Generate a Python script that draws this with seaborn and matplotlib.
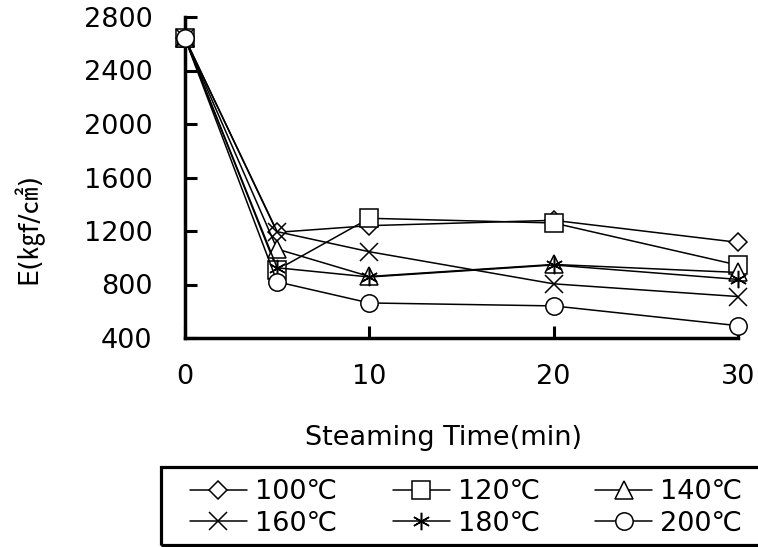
import seaborn as sns
import matplotlib.pyplot as plt
from matplotlib.patches import Rectangle

# steaming time (min) and modulus E (kgf/cm2) per steaming temperature
time_min = [0, 5, 10, 20, 30]
e_100 = [2640, 1190, 1240, 1280, 1115]
e_120 = [2640, 910, 1295, 1260, 945]
e_140 = [2640, 1065, 860, 950, 890]
e_160 = [2640, 1195, 1045, 805, 710]
e_180 = [2640, 925, 856, 946, 838]
e_200 = [2640, 820, 662, 640, 492]

labels = ['100℃', '120℃', '140℃', '160℃', '180℃', '200℃']
yticks = [400, 800, 1200, 1600, 2000, 2400, 2800]
xticks = [0, 10, 20, 30]

marker_list = ['D', 's', '^', 'x', (6, 2, 0), 'o']

sns.set_style('ticks')
plt.rcParams['font.family'] = ['DejaVu Sans', 'Noto Sans CJK KR']
plt.rcParams['text.color'] = 'black'
plt.rcParams['axes.labelcolor'] = 'black'

fs = 19.5
fig = plt.figure(figsize=(7.58, 5.47), dpi=100)
ax = fig.add_axes([185 / 758, 1 - 338 / 547, 553 / 758, 321 / 547])

series = [e_100, e_120, e_140, e_160, e_180, e_200]
for vals, lab, mk in zip(series, labels, marker_list):
    ms = 9.2 if mk == 'D' else 12.5
    sns.lineplot(x=time_min, y=vals, ax=ax, color='black', linewidth=1.1,
                 marker=mk, markersize=ms, markerfacecolor='white',
                 markeredgecolor='black', markeredgewidth=1.1,
                 clip_on=False, zorder=3, label=lab, legend=False)

ax.set_xlim(0, 30)
ax.set_ylim(400, 2800)
ax.set_xticks(xticks)
ax.set_yticks(yticks)
sns.despine(ax=ax)
for sp in ['left', 'bottom']:
    ax.spines[sp].set_linewidth(2.5)
    ax.spines[sp].set_color('black')
ax.tick_params(axis='both', direction='in', length=8.5, width=2.2,
               labelsize=fs, colors='black')
ax.tick_params(axis='x', pad=18.5)
ax.tick_params(axis='y', pad=23.5)

ax.set_xlabel('Steaming Time(min)', fontsize=fs)
ax.xaxis.set_label_coords(0.467, -0.271)
ax.set_ylabel('E(㎏f/㎠)', fontsize=fs)
ax.yaxis.set_label_coords(-0.257, 0.34)

# legend fills row by row: 100 120 140 / 160 180 200
handles, labs = ax.get_legend_handles_labels()
order = [0, 3, 1, 4, 2, 5]
fig.legend([handles[i] for i in order], [labs[i] for i in order], ncol=3,
           loc='upper left', bbox_to_anchor=(190 / 758, 1 - 479 / 547),
           frameon=False, fontsize=fs, borderpad=0, borderaxespad=0,
           handlelength=2.1, handletextpad=0.3, columnspacing=2.05,
           labelspacing=0.2)
fig.patches.append(Rectangle((161 / 758, 2 / 547), 700 / 758, 78 / 547,
                             transform=fig.transFigure, fill=False,
                             edgecolor='black', linewidth=2.3))

fig.savefig('out.png', dpi=100)
